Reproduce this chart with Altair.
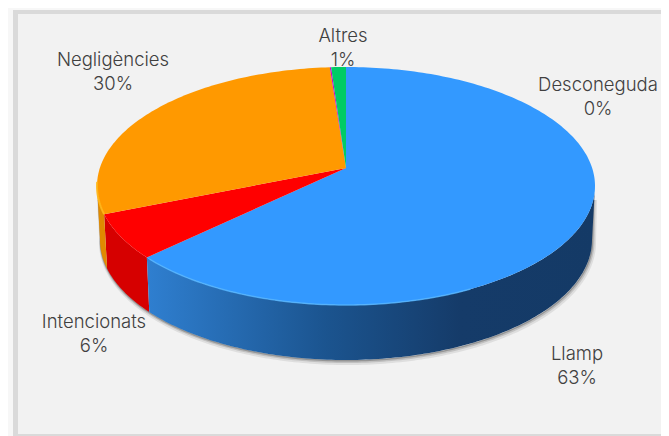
import math
import altair as alt

categories = ["Llamp", "Intencionats", "Negligències", "Desconeguda", "Altres"]
shares = [63.0, 6.0, 29.8, 0.1, 1.1]
percent_labels = ["63%", "6%", "30%", "0%", "1%"]

top_colors = ["#3399FF", "#FF0000", "#FF9900", "#CC00CC", "#00CC66"]
wall_colors = [None, "#D60000", "#E08A00", "#B000B0", "#00A050"]

label_centres = {
    "Llamp": (577, 354), "Intencionats": (94, 322), "Negligències": (113, 60),
    "Desconeguda": (598, 85), "Altres": (343, 36),
}

W, H = 653, 428
OX, OY = 8, 8
APEX = (346, 168)
TOP = dict(cx=346, cy=186, rx=249, ry=119)
BOT = dict(cx=346, cy=240, rx=246, ry=120)
K = 0.866


def warp(deg):
    h = math.radians(deg) / 2
    return 2 * math.degrees(math.atan2(K * math.sin(h), math.cos(h)))


def rim(e, t):
    a = math.radians(t)
    return [e["cx"] + e["rx"] * math.sin(a), e["cy"] - e["ry"] * math.cos(a)]


def arc(e, a, b):
    n = max(2, int(abs(b - a)) + 2)
    return [rim(e, a + (b - a) * i / (n - 1)) for i in range(n)]


def poly(points, **props):
    ring = points + [points[0]]
    return {"type": "Feature", "properties": props,
            "geometry": {"type": "Polygon", "coordinates": [ring]}}


def line(points, **props):
    return {"type": "Feature", "properties": props,
            "geometry": {"type": "LineString", "coordinates": points}}


PROJ = alt.Projection(type="identity", scale=1, translate=[-OX, -OY])


def geo(features, **mark):
    data = alt.InlineData(values={"type": "FeatureCollection", "features": features},
                          format=alt.DataFormat(type="json", property="features"))
    return alt.Chart(data).mark_geoshape(**mark).project(**PROJ.to_dict())


def rect(x0, y0, x1, y1, fill):
    return poly([[x0, y0], [x1, y0], [x1, y1], [x0, y1]], fill=fill)


total = sum(shares)
edges = [0.0]
for s in shares:
    edges.append(edges[-1] + s / total * 360)
angles = [warp(d) for d in edges]
angles[-1] = 360.0

# frame
frame = [
    rect(8, 8, 669, 436, "#F7F7F7"),
    rect(13, 10, 669, 436, "#DADADA"),
    rect(18, 14, 666, 434, "#F2F2F2"),
]

fill_layer = lambda feats, **m: geo(feats, stroke=None, **m).encode(
    fill=alt.Color("properties.fill:N", scale=None, legend=None))

layers = [fill_layer(frame)]

# shadow
low = arc(BOT, 90, 272)
for dx, dy, w, op in [(1.5, 2.5, 5, 0.12), (1, 1.5, 3, 0.22), (0.5, 0.8, 1.5, 0.4)]:
    pts = [[p[0] + dx, p[1] + dy] for p in low]
    pts = [[pts[0][0] + 1, 200]] + pts + [[pts[-1][0] - 2, 200]]
    layers.append(geo([line(pts)], fill=None, stroke="#555555", strokeWidth=w, opacity=op))

# walls
wall_feats = []
for i in range(1, len(shares)):
    a, b = max(angles[i], 90), min(angles[i + 1], 270)
    if a < b:
        wall_feats.append(poly(arc(TOP, a, b) + arc(BOT, b, a), fill=wall_colors[i]))
layers.append(fill_layer(wall_feats))

blue_wall = poly(arc(TOP, 90, angles[1]) + arc(BOT, angles[1], 90))
layers.append(geo([blue_wall], stroke=None, fill=alt.Gradient(
    gradient="linear", x1=1, x2=0, y1=0, y2=0,
    stops=[alt.GradientStop(offset=0, color="#143A66"),
           alt.GradientStop(offset=0.3, color="#153B69"),
           alt.GradientStop(offset=0.6, color="#1B548F"),
           alt.GradientStop(offset=1, color="#2F7FD0")])))

# top surface
top_feats = []
for i in range(len(shares)):
    top_feats.append(poly([list(APEX)] + arc(TOP, angles[i], angles[i + 1]), fill=top_colors[i]))
layers.append(fill_layer(top_feats))

# bevel highlights along rim
layers.append(geo([line(arc(TOP, 150, angles[1] - 1))], fill=None, stroke="#55B5FF", strokeWidth=1.5, opacity=0.8))
layers.append(geo([line(arc(TOP, angles[2], 272))], fill=None, stroke="#FFB71A", strokeWidth=2, opacity=0.9))

# labels
rows = []
for c, p in zip(categories, percent_labels):
    x, y = label_centres[c]
    rows.append({"t": c, "x": x - OX, "y": y - OY})
    rows.append({"t": p, "x": x - OX, "y": y + 24 - OY})
text = alt.Chart(alt.Data(values=rows)).mark_text(
    font="Inter", fontSize=18.5, fontWeight=300, color="#404040", align="center", baseline="middle"
).encode(x=alt.X("x:Q", scale=None, axis=None), y=alt.Y("y:Q", scale=None, axis=None), text="t:N")
layers.append(text)

chart = alt.layer(*layers).properties(
    width=W, height=H, padding=0, autosize=alt.AutoSizeParams(type="none"), background="#F2F2F2"
).configure_view(stroke=None)

chart.save("out.html", embed_options={"renderer": "svg", "actions": False})
